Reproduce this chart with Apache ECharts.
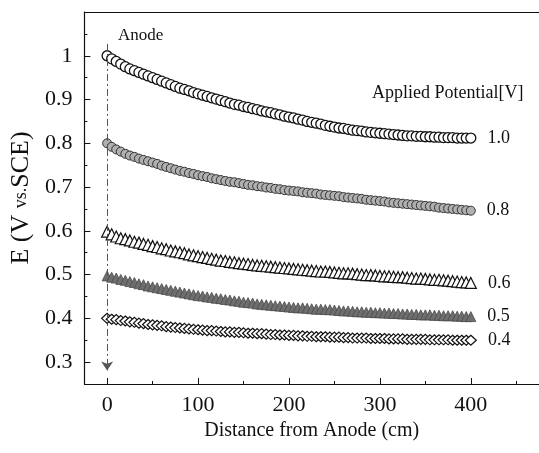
<!DOCTYPE html>
<html>
<head>
<meta charset="utf-8">
<script src="https://cdn.jsdelivr.net/npm/echarts@6/dist/echarts.min.js"></script>
<style>html,body{margin:0;padding:0;background:#fff;}#c{width:539px;height:453px;}</style>
</head>
<body>
<div id="c"></div>
<script>
// Distance from anode (cm)
const distance = [0,5,10,15,20,25,30,35,40,45,50,55,60,65,70,75,80,85,90,95,100,105,110,115,120,125,130,135,140,145,150,155,160,165,170,175,180,185,190,195,200,205,210,215,220,225,230,235,240,245,250,255,260,265,270,275,280,285,290,295,300,305,310,315,320,325,330,335,340,345,350,355,360,365,370,375,380,385,390,395,400];

// E (V vs. SCE) for each applied potential
const e10 = [1.000,0.993,0.987,0.981,0.975,0.970,0.966,0.962,0.958,0.954,0.950,0.946,0.942,0.938,0.934,0.930,0.926,0.923,0.920,0.916,0.913,0.910,0.907,0.904,0.901,0.898,0.895,0.892,0.889,0.887,0.884,0.882,0.879,0.877,0.874,0.872,0.870,0.867,0.865,0.862,0.860,0.858,0.855,0.853,0.850,0.848,0.846,0.844,0.841,0.839,0.837,0.835,0.834,0.832,0.830,0.829,0.828,0.826,0.825,0.824,0.823,0.822,0.821,0.820,0.819,0.818,0.817,0.817,0.816,0.816,0.815,0.815,0.814,0.814,0.813,0.813,0.813,0.812,0.812,0.812,0.812];
const e08 = [0.800,0.792,0.786,0.781,0.776,0.772,0.769,0.765,0.762,0.759,0.756,0.753,0.749,0.746,0.743,0.740,0.737,0.735,0.732,0.730,0.727,0.725,0.723,0.720,0.718,0.716,0.714,0.712,0.711,0.709,0.707,0.705,0.704,0.702,0.701,0.699,0.698,0.696,0.695,0.693,0.692,0.691,0.690,0.688,0.687,0.686,0.685,0.683,0.682,0.681,0.680,0.679,0.677,0.676,0.675,0.674,0.673,0.671,0.670,0.669,0.668,0.667,0.665,0.664,0.663,0.662,0.661,0.660,0.659,0.658,0.657,0.656,0.655,0.653,0.652,0.651,0.650,0.649,0.648,0.647,0.646];
const e06 = [0.598,0.592,0.587,0.583,0.581,0.578,0.575,0.573,0.570,0.568,0.565,0.563,0.560,0.558,0.555,0.553,0.551,0.549,0.546,0.544,0.542,0.540,0.538,0.536,0.534,0.532,0.531,0.529,0.528,0.526,0.525,0.524,0.522,0.521,0.520,0.519,0.518,0.517,0.516,0.515,0.514,0.513,0.512,0.511,0.510,0.509,0.508,0.507,0.507,0.506,0.505,0.504,0.503,0.503,0.502,0.501,0.500,0.499,0.499,0.498,0.497,0.496,0.496,0.495,0.494,0.494,0.493,0.492,0.491,0.491,0.490,0.489,0.488,0.488,0.487,0.486,0.485,0.484,0.483,0.482,0.481];
const e05 = [0.497,0.494,0.492,0.489,0.487,0.484,0.482,0.479,0.477,0.474,0.472,0.470,0.468,0.466,0.464,0.462,0.460,0.458,0.456,0.454,0.452,0.451,0.449,0.448,0.446,0.445,0.443,0.442,0.440,0.439,0.437,0.436,0.435,0.433,0.432,0.431,0.430,0.429,0.428,0.427,0.426,0.425,0.424,0.424,0.423,0.422,0.421,0.421,0.420,0.420,0.419,0.418,0.417,0.417,0.416,0.415,0.415,0.414,0.414,0.413,0.413,0.412,0.412,0.411,0.411,0.410,0.410,0.409,0.409,0.408,0.408,0.408,0.407,0.407,0.406,0.406,0.406,0.405,0.405,0.404,0.404];
const e04 = [0.400,0.398,0.397,0.395,0.394,0.392,0.391,0.389,0.388,0.386,0.385,0.384,0.383,0.381,0.380,0.379,0.378,0.377,0.376,0.375,0.374,0.373,0.372,0.372,0.371,0.370,0.369,0.369,0.368,0.368,0.367,0.366,0.366,0.365,0.365,0.364,0.363,0.363,0.362,0.362,0.361,0.361,0.360,0.360,0.359,0.359,0.358,0.358,0.358,0.357,0.357,0.357,0.356,0.356,0.355,0.355,0.355,0.355,0.354,0.354,0.354,0.354,0.353,0.353,0.353,0.353,0.352,0.352,0.352,0.352,0.352,0.351,0.351,0.351,0.351,0.351,0.350,0.350,0.350,0.350,0.350];

const seriesNames = ['1.0','0.8','0.6','0.5','0.4'];
const xMajorTicks = [0,100,200,300,400];
const xMinorTicks = [50,150,250,350,450];
const yMajorTicks = [0.3,0.4,0.5,0.6,0.7,0.8,0.9,1.0];
const yMinorTicks = [0.35,0.45,0.55,0.65,0.75,0.85,0.95,1.05];
const anodeLine = [[0,1.027],[0,0.281]];

const SERIF = '"Liberation Serif","DejaVu Serif","Times New Roman",serif';

function pairs(ys){ return ys.map((y,i)=>[distance[i], y]); }

const styles = [
  {symbol:'circle', size:10, fill:'#ffffff', stroke:'#111', bw:1.3},
  {symbol:'circle', size:9, fill:'#b0b0b0', stroke:'#333', bw:1},
  {symbol:'triangle', size:11, fill:'#ffffff', stroke:'#111', bw:1.2},
  {symbol:'triangle', size:10, fill:'#6e6e6e', stroke:'#4a4a4a', bw:0.8},
  {symbol:'diamond', size:[11,10], fill:'#ffffff', stroke:'#111', bw:1.2}
];
const allData = [e10,e08,e06,e05,e04];

const series = allData.map((ys,k)=>{
  const st = styles[k];
  const s = {
    name: seriesNames[k],
    type:'scatter',
    xAxisIndex:0, yAxisIndex:0,
    data: pairs(ys),
    symbol: st.symbol,
    symbolSize: st.size,
    itemStyle:{color:st.fill, borderColor:st.stroke, borderWidth:st.bw, opacity:1},
    label:{
      show:true, position:'right', distance:11,
      fontFamily:SERIF, fontSize:18, color:'#111',
      formatter: p => p.dataIndex === ys.length-1 ? seriesNames[k] : ''
    },
    emphasis:{disabled:true},
    silent:true
  };
  if(k===0){
    s.markLine = {
      silent:true, animation:false,
      symbol:['none','arrow'], symbolSize:9,
      label:{show:false},
      lineStyle:{color:'#555', width:1, type:[7,3,2,3]},
      data:[[{coord:anodeLine[0]},{coord:anodeLine[1]}]]
    };
  }
  return s;
});

const chart = echarts.init(document.getElementById('c'), null, {renderer:'canvas'});
chart.setOption({
  animation:false,
  backgroundColor:'#fff',
  grid:{left:84, right:0, top:12, bottom:69, containLabel:false},
  xAxis:[
    {type:'value', min:-25, max:475, position:'bottom',
     axisLine:{show:true, onZero:false, lineStyle:{color:'#111', width:1.2}},
     axisTick:{show:true, inside:true, length:6, customValues:xMajorTicks, lineStyle:{color:'#111'}},
     axisLabel:{show:true, customValues:xMajorTicks, fontFamily:SERIF, fontSize:22, color:'#111', margin:10},
     splitLine:{show:false},
     name:'Distance from Anode (cm)', nameLocation:'middle', nameGap:27,
     nameTextStyle:{fontFamily:SERIF, fontSize:20, color:'#111'}},
    {type:'value', min:-25, max:475, position:'bottom',
     axisLine:{show:false, onZero:false},
     axisTick:{show:true, inside:true, length:3, customValues:xMinorTicks, lineStyle:{color:'#111'}},
     axisLabel:{show:false}, splitLine:{show:false}},
    {type:'value', min:-25, max:475, position:'top',
     axisLine:{show:true, onZero:false, lineStyle:{color:'#111', width:1.2}},
     axisTick:{show:false}, axisLabel:{show:false}, splitLine:{show:false}}
  ],
  yAxis:[
    {type:'value', min:0.25, max:1.1, position:'left',
     axisLine:{show:true, onZero:false, lineStyle:{color:'#111', width:1.2}},
     axisTick:{show:true, inside:true, length:6, customValues:yMajorTicks, lineStyle:{color:'#111'}},
     axisLabel:{show:true, customValues:yMajorTicks, fontFamily:SERIF, fontSize:22, color:'#111', margin:12,
       formatter: v => (Math.abs(v-1)<1e-9 ? '1' : String(Math.round(v*10)/10))},
     splitLine:{show:false},
     name:'{a|E (V }{b|vs.}{a|SCE)}', nameLocation:'middle', nameGap:50, nameRotate:90,
     nameTextStyle:{fontFamily:SERIF, color:'#111', rich:{
       a:{fontFamily:SERIF, fontSize:26, color:'#111'},
       b:{fontFamily:SERIF, fontSize:18, color:'#111'}}}},
    {type:'value', min:0.25, max:1.1, position:'left',
     axisLine:{show:false, onZero:false},
     axisTick:{show:true, inside:true, length:3, customValues:yMinorTicks, lineStyle:{color:'#111'}},
     axisLabel:{show:false}, splitLine:{show:false}}
  ],
  graphic:[
    {type:'text', left:118, top:27, style:{text:'Anode', fontFamily:SERIF, fontSize:17, fill:'#111'}},
    {type:'text', left:372, top:84, style:{text:'Applied Potential[V]', fontFamily:SERIF, fontSize:18, fill:'#111'}}
  ],
  series: series
});
</script>
</body>
</html>
